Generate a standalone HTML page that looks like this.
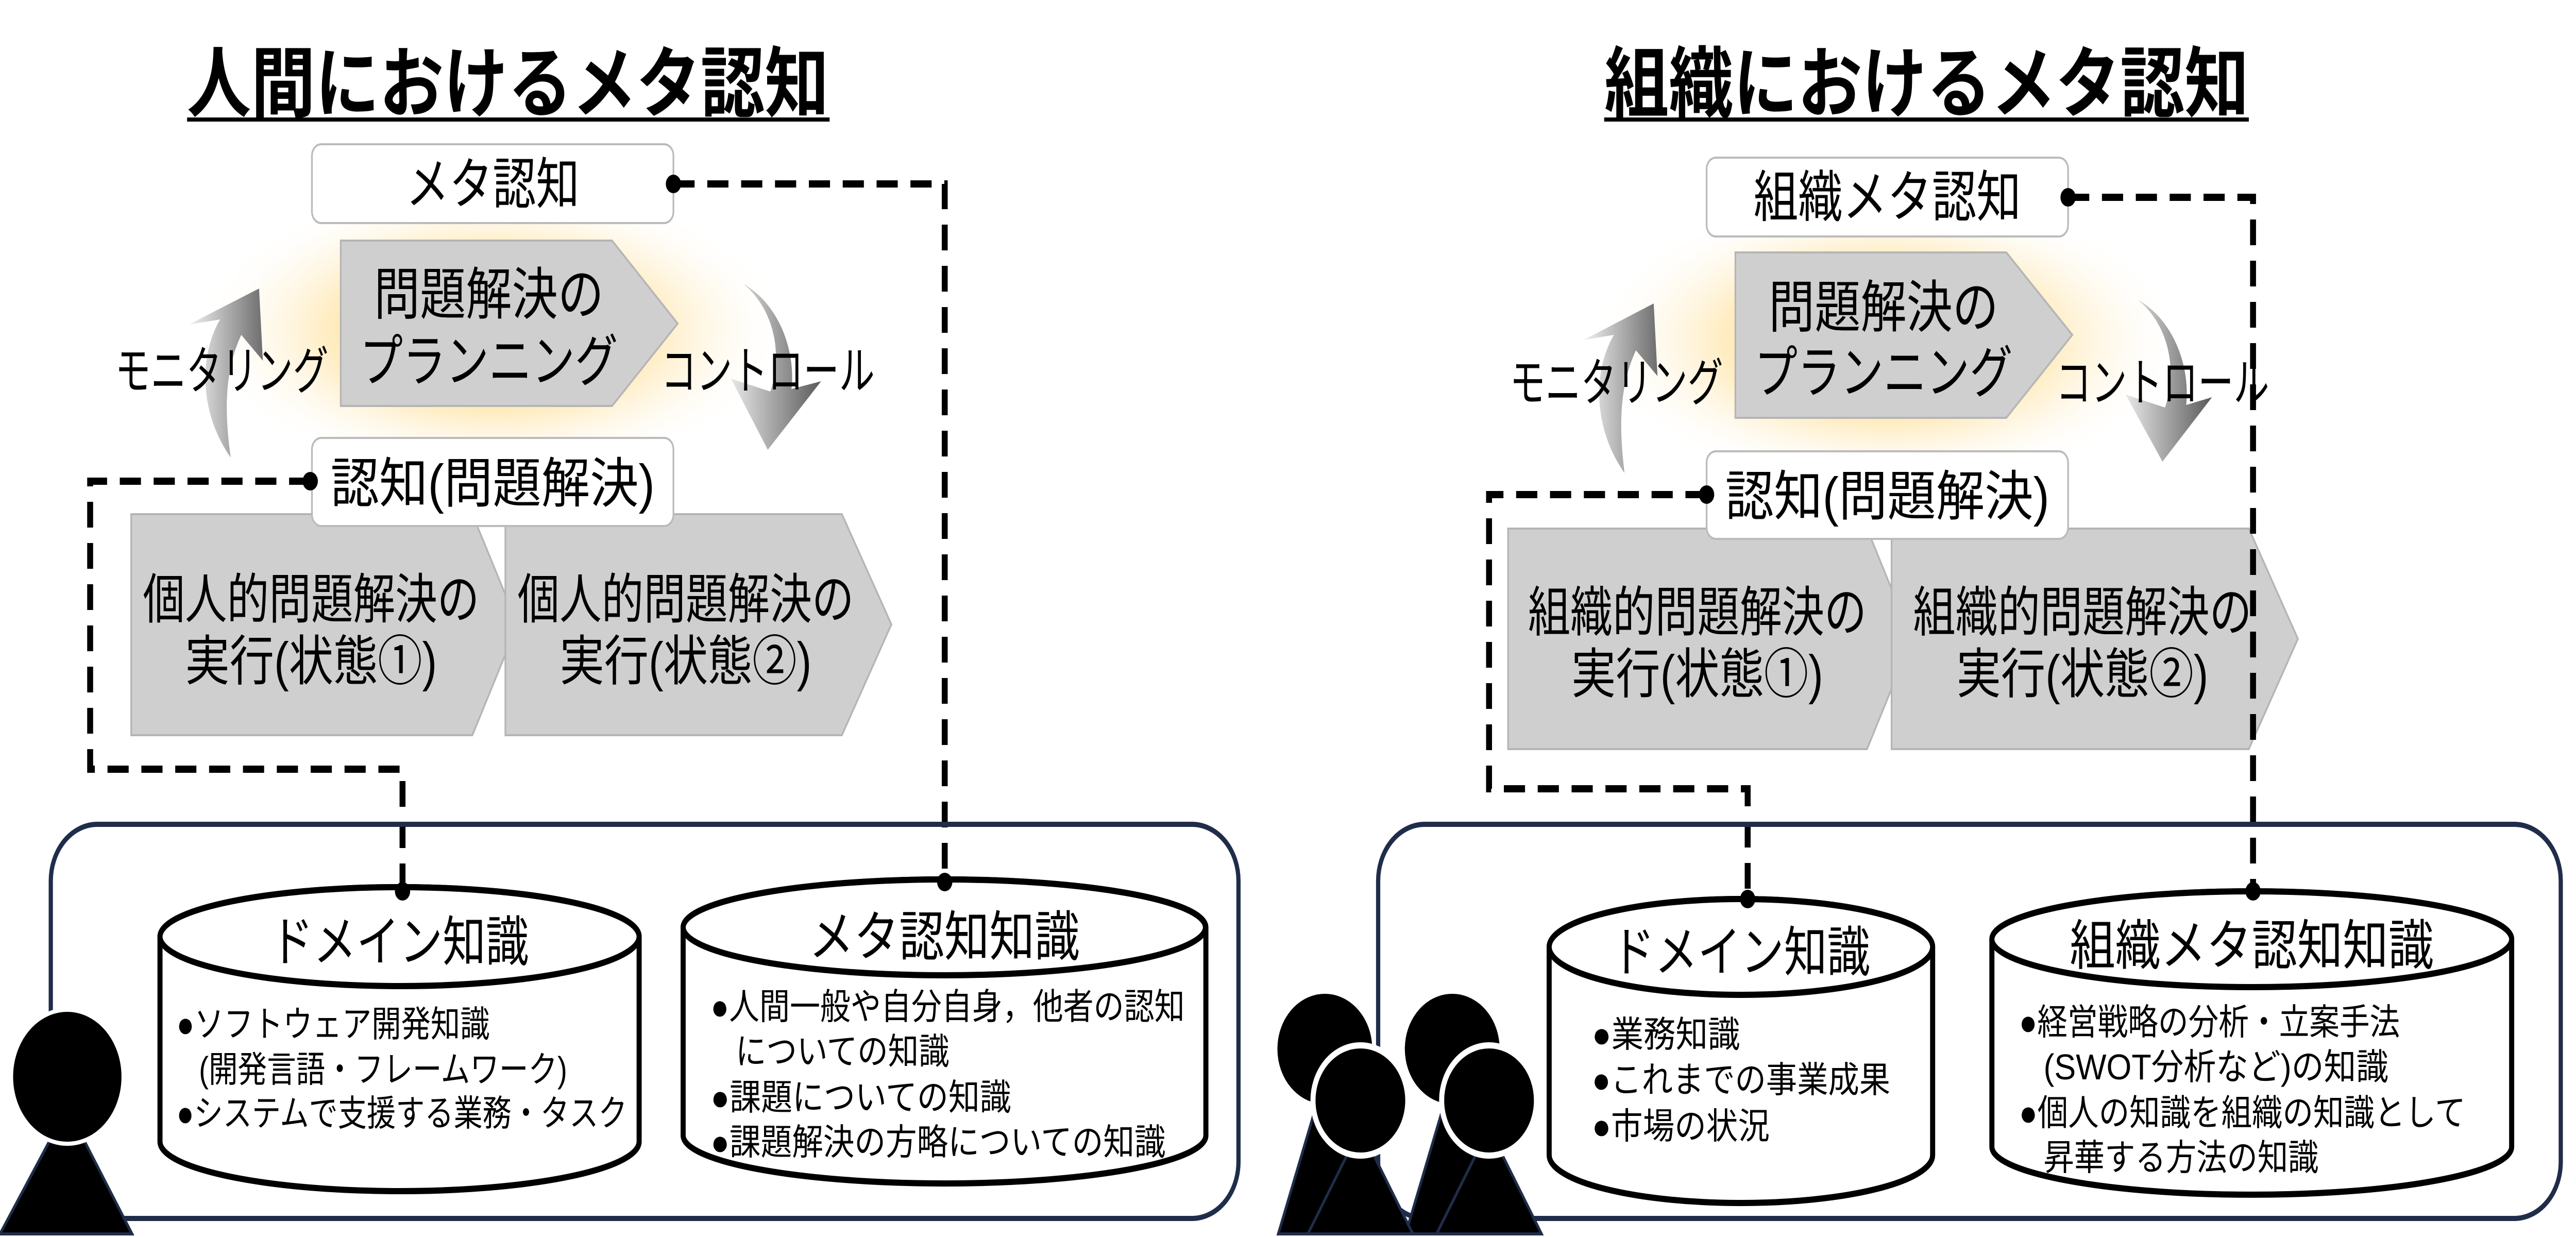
<!DOCTYPE html>
<html><head><meta charset="utf-8"><style>
html,body{margin:0;padding:0;background:#fff;width:100%;height:100%;overflow:hidden}
svg{display:block;width:100vw;height:100vh}
text{font-family:"Liberation Sans","Noto Sans CJK JP",sans-serif;fill:#000}
</style></head><body>
<svg viewBox="0 0 6086 2401" preserveAspectRatio="none" xmlns="http://www.w3.org/2000/svg">
<defs>
<radialGradient id="glow" cx="0.5" cy="0.5" r="0.5">
<stop offset="0" stop-color="#ffd98a" stop-opacity="1"/>
<stop offset="0.55" stop-color="#ffe7b0" stop-opacity="0.8"/>
<stop offset="1" stop-color="#ffffff" stop-opacity="0"/>
</radialGradient>
<linearGradient id="arr" x1="0" y1="0" x2="1" y2="0">
<stop offset="0" stop-color="#f2f2f2"/><stop offset="1" stop-color="#6e6e6e"/>
</linearGradient>
<linearGradient id="arr2" x1="0" y1="0" x2="1" y2="0">
<stop offset="0" stop-color="#e8e8e8"/><stop offset="1" stop-color="#5a5a5a"/>
</linearGradient>
</defs>

<text x="1200" y="215" font-size="150" font-weight="bold" text-anchor="middle" textLength="1517" lengthAdjust="spacingAndGlyphs">人間におけるメタ認知</text>
<rect x="442" y="228" width="1518" height="8" fill="#000"/>

<ellipse cx="1164" cy="640" rx="700" ry="290" fill="url(#glow)"/>

<rect x="737" y="280" width="854" height="153" rx="22" fill="#fff" stroke="#bbb" stroke-width="4"/>
<text x="1164" y="395" font-size="108" text-anchor="middle" textLength="410" lengthAdjust="spacingAndGlyphs">メタ認知</text>

<polygon points="805,467 1446,467 1601,628 1446,788 805,788" fill="#d0cfd0" stroke="#b5b5b5" stroke-width="4"/>
<text x="1155" y="610" font-size="110" text-anchor="middle" textLength="543" lengthAdjust="spacingAndGlyphs">問題解決の</text>
<text x="1155" y="740" font-size="110" text-anchor="middle" textLength="610" lengthAdjust="spacingAndGlyphs">プランニング</text>

<path d="M545,888 C470,800 470,690 520,620 L446,630 L612,560 L621,700 L570,650 C530,720 530,800 545,888 Z" fill="url(#arr)"/>
<path d="M1756,551 C1830,600 1850,690 1820,760 L1727,735 L1814,873 L1940,740 L1870,755 C1880,680 1840,590 1756,551 Z" fill="url(#arr2)"/>
<text x="524" y="755" font-size="100" text-anchor="middle" textLength="504" lengthAdjust="spacingAndGlyphs">モニタリング</text>
<text x="1814" y="755" font-size="100" text-anchor="middle" textLength="505" lengthAdjust="spacingAndGlyphs">コントロール</text>

<polygon points="310,998 1116,998 1223,1212 1116,1427 310,1427" fill="#d0cfd0" stroke="#b5b5b5" stroke-width="4"/>
<polygon points="1194,998 1989,998 2106,1212 1989,1427 1194,1427" fill="#d0cfd0" stroke="#b5b5b5" stroke-width="4"/>
<text x="735" y="1200" font-size="105" text-anchor="middle" textLength="795" lengthAdjust="spacingAndGlyphs">個人的問題解決の</text>
<text x="735" y="1320" font-size="105" text-anchor="middle" textLength="595" lengthAdjust="spacingAndGlyphs">実行(状態①)</text>
<text x="1620" y="1200" font-size="105" text-anchor="middle" textLength="795" lengthAdjust="spacingAndGlyphs">個人的問題解決の</text>
<text x="1620" y="1320" font-size="105" text-anchor="middle" textLength="595" lengthAdjust="spacingAndGlyphs">実行(状態②)</text>

<rect x="737" y="850" width="854" height="171" rx="22" fill="#fff" stroke="#bbb" stroke-width="4"/>
<text x="1164" y="975" font-size="105" text-anchor="middle" textLength="766" lengthAdjust="spacingAndGlyphs">認知(問題解決)</text>

<g fill="none" stroke="#000" stroke-width="14" stroke-dasharray="50 30">
<polyline points="733,934 213,934 213,1493 951,1493 951,1730"/>
<polyline points="1591,357 2232,357 2232,1712"/>
</g>
<circle cx="733" cy="934" r="18"/><circle cx="1591" cy="357" r="18"/>

<rect x="120" y="1600" width="2806" height="765" rx="110" fill="none" stroke="#1f2d4a" stroke-width="10"/>

<path d="M378,1818 A566,96 0 0 1 1510,1818 V2216 A566,96 0 0 1 378,2216 Z" fill="#fff" stroke="#000" stroke-width="12"/>
<ellipse cx="944" cy="1818" rx="566" ry="96" fill="#fff" stroke="#000" stroke-width="12"/>
<circle cx="951" cy="1730" r="18"/>
<text x="944" y="1865" font-size="105" text-anchor="middle" textLength="611" lengthAdjust="spacingAndGlyphs">ドメイン知識</text>
<g font-size="70">
<text x="417" y="2012" textLength="740" lengthAdjust="spacingAndGlyphs">●ソフトウェア開発知識</text>
<text x="470" y="2100" textLength="870" lengthAdjust="spacingAndGlyphs">(開発言語・フレームワーク)</text>
<text x="417" y="2185" textLength="1065" lengthAdjust="spacingAndGlyphs">●システムで支援する業務・タスク</text>
</g>

<path d="M1614,1800 A617,93 0 0 1 2849,1800 V2204 A617,93 0 0 1 1614,2204 Z" fill="#fff" stroke="#000" stroke-width="12"/>
<ellipse cx="2231" cy="1800" rx="617" ry="93" fill="#fff" stroke="#000" stroke-width="12"/>
<circle cx="2232" cy="1712" r="18"/>
<text x="2231" y="1855" font-size="105" text-anchor="middle" textLength="640" lengthAdjust="spacingAndGlyphs">メタ認知知識</text>
<g font-size="70">
<text x="1679" y="1978" textLength="1120" lengthAdjust="spacingAndGlyphs">●人間一般や自分自身，他者の認知</text>
<text x="1738" y="2065" textLength="505" lengthAdjust="spacingAndGlyphs">についての知識</text>
<text x="1679" y="2154" textLength="710" lengthAdjust="spacingAndGlyphs">●課題についての知識</text>
<text x="1679" y="2241" textLength="1075" lengthAdjust="spacingAndGlyphs">●課題解決の方略についての知識</text>
</g>

<polygon points="159,2150 0,2395 312,2395" fill="#000" stroke="#1f2d4a" stroke-width="6"/>
<ellipse cx="159" cy="2090" rx="132" ry="130" fill="#000" stroke="#fff" stroke-width="8"/>

<text x="4552" y="215" font-size="150" font-weight="bold" text-anchor="middle" textLength="1523" lengthAdjust="spacingAndGlyphs">組織におけるメタ認知</text>
<rect x="3790" y="228" width="1523" height="8" fill="#000"/>

<ellipse cx="4459" cy="660" rx="700" ry="290" fill="url(#glow)"/>

<rect x="4032" y="306" width="854" height="153" rx="22" fill="#fff" stroke="#bbb" stroke-width="4"/>
<text x="4459" y="420" font-size="108" text-anchor="middle" textLength="632" lengthAdjust="spacingAndGlyphs">組織メタ認知</text>

<polygon points="4100,490 4740,490 4896,650 4740,811 4100,811" fill="#d0cfd0" stroke="#b5b5b5" stroke-width="4"/>
<text x="4450" y="635" font-size="110" text-anchor="middle" textLength="543" lengthAdjust="spacingAndGlyphs">問題解決の</text>
<text x="4450" y="762" font-size="110" text-anchor="middle" textLength="610" lengthAdjust="spacingAndGlyphs">プランニング</text>

<path d="M3838,918 C3763,830 3763,720 3813,650 L3741,660 L3907,589 L3916,730 L3865,680 C3825,750 3825,830 3838,918 Z" fill="url(#arr)"/>
<path d="M5051,582 C5125,631 5145,721 5115,791 L5022,766 L5109,896 L5226,771 L5165,786 C5175,711 5135,621 5051,582 Z" fill="url(#arr2)"/>
<text x="3819" y="778" font-size="100" text-anchor="middle" textLength="504" lengthAdjust="spacingAndGlyphs">モニタリング</text>
<text x="5109" y="778" font-size="100" text-anchor="middle" textLength="504" lengthAdjust="spacingAndGlyphs">コントロール</text>

<polygon points="3563,1026 4411,1026 4517,1240 4411,1454 3563,1454" fill="#d0cfd0" stroke="#b5b5b5" stroke-width="4"/>
<polygon points="4469,1026 5313,1026 5429,1240 5313,1454 4469,1454" fill="#d0cfd0" stroke="#b5b5b5" stroke-width="4"/>
<text x="4010" y="1225" font-size="105" text-anchor="middle" textLength="800" lengthAdjust="spacingAndGlyphs">組織的問題解決の</text>
<text x="4010" y="1345" font-size="105" text-anchor="middle" textLength="595" lengthAdjust="spacingAndGlyphs">実行(状態①)</text>
<text x="4920" y="1225" font-size="105" text-anchor="middle" textLength="800" lengthAdjust="spacingAndGlyphs">組織的問題解決の</text>
<text x="4920" y="1345" font-size="105" text-anchor="middle" textLength="595" lengthAdjust="spacingAndGlyphs">実行(状態②)</text>

<rect x="4032" y="876" width="854" height="170" rx="22" fill="#fff" stroke="#bbb" stroke-width="4"/>
<text x="4459" y="1000" font-size="105" text-anchor="middle" textLength="766" lengthAdjust="spacingAndGlyphs">認知(問題解決)</text>

<g fill="none" stroke="#000" stroke-width="14" stroke-dasharray="50 30">
<polyline points="4032,960 3518,960 3518,1531 4129,1531 4129,1745"/>
<polyline points="4886,383 5323,383 5323,1730"/>
</g>
<circle cx="4032" cy="960" r="18"/><circle cx="4886" cy="383" r="18"/>

<rect x="3256" y="1600" width="2794" height="765" rx="110" fill="none" stroke="#1f2d4a" stroke-width="10"/>

<path d="M3660,1838 A453,93 0 0 1 4566,1838 V2242 A453,93 0 0 1 3660,2242 Z" fill="#fff" stroke="#000" stroke-width="12"/>
<ellipse cx="4113" cy="1838" rx="453" ry="93" fill="#fff" stroke="#000" stroke-width="12"/>
<circle cx="4129" cy="1745" r="18"/>
<text x="4113" y="1885" font-size="105" text-anchor="middle" textLength="611" lengthAdjust="spacingAndGlyphs">ドメイン知識</text>
<g font-size="70">
<text x="3761" y="2032" textLength="350" lengthAdjust="spacingAndGlyphs">●業務知識</text>
<text x="3761" y="2120" textLength="705" lengthAdjust="spacingAndGlyphs">●これまでの事業成果</text>
<text x="3761" y="2210" textLength="420" lengthAdjust="spacingAndGlyphs">●市場の状況</text>
</g>

<path d="M4706,1823 A614,93 0 0 1 5934,1823 V2226 A614,93 0 0 1 4706,2226 Z" fill="#fff" stroke="#000" stroke-width="12"/>
<ellipse cx="5320" cy="1823" rx="614" ry="93" fill="#fff" stroke="#000" stroke-width="12"/>
<circle cx="5323" cy="1730" r="18"/>
<text x="5320" y="1872" font-size="105" text-anchor="middle" textLength="860" lengthAdjust="spacingAndGlyphs">組織メタ認知知識</text>
<g font-size="70">
<text x="4770" y="2008" textLength="900" lengthAdjust="spacingAndGlyphs">●経営戦略の分析・立案手法</text>
<text x="4828" y="2095" textLength="815" lengthAdjust="spacingAndGlyphs">(SWOT分析など)の知識</text>
<text x="4770" y="2184" textLength="1055" lengthAdjust="spacingAndGlyphs">●個人の知識を組織の知識として</text>
<text x="4828" y="2271" textLength="650" lengthAdjust="spacingAndGlyphs">昇華する方法の知識</text>
</g>

<polygon points="3130,2090 3020,2395 3240,2395" fill="#000" stroke="#1f2d4a" stroke-width="6"/>
<polygon points="3431,2090 3321,2395 3541,2395" fill="#000" stroke="#1f2d4a" stroke-width="6"/>
<ellipse cx="3130" cy="2036" rx="112" ry="107" fill="#000"/>
<ellipse cx="3431" cy="2036" rx="112" ry="107" fill="#000"/>
<polygon points="3214,2190 3090,2395 3338,2395" fill="#000" stroke="#1f2d4a" stroke-width="6"/>
<polygon points="3518,2190 3394,2395 3642,2395" fill="#000" stroke="#1f2d4a" stroke-width="6"/>
<ellipse cx="3214" cy="2136" rx="112" ry="107" fill="#000" stroke="#fff" stroke-width="12"/>
<ellipse cx="3518" cy="2136" rx="112" ry="107" fill="#000" stroke="#fff" stroke-width="12"/>
</svg>
</body></html>
